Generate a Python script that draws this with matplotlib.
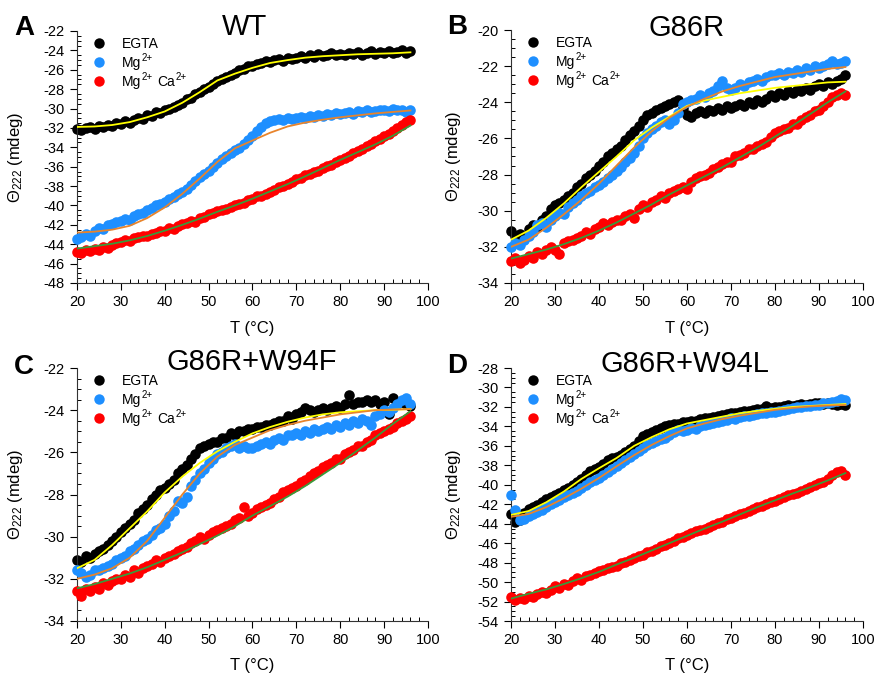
import numpy as np
import matplotlib
matplotlib.use("Agg")
import matplotlib.pyplot as plt
from matplotlib.ticker import MultipleLocator

plt.rcParams['font.family'] = ['Liberation Sans', 'DejaVu Sans']
plt.rcParams['mathtext.fontset'] = 'custom'
plt.rcParams['mathtext.rm'] = 'Liberation Sans'
plt.rcParams['mathtext.it'] = 'Liberation Sans:italic'
plt.rcParams['mathtext.bf'] = 'Liberation Sans:bold'
plt.rcParams['axes.unicode_minus'] = False

# ---------------- data ----------------
temps = np.arange(20, 97)            # measured temperatures (°C)
fit_temps = np.arange(20, 97, 4)     # temperatures of fitted curve samples

panel_letters = ["A", "B", "C", "D"]
panel_titles = ["WT", "G86R", "G86R+W94F", "G86R+W94L"]
# legend labels as (text, is_superscript) pieces
series_labels = [
    [("EGTA", False)],
    [("Mg", False), ("2+", True)],
    [("Mg", False), ("2+", True), ("Ca", False), ("2+", True)],
]
y_limits = [(-48, -22), (-34, -20), (-34, -22), (-54, -28)]

# Panel A (WT)
wt_egta = [-32.1, -32.2, -32.0, -31.9, -32.1, -31.8, -31.9, -31.7, -31.8, -31.5,
           -31.6, -31.3, -31.5, -31.2, -31.0, -31.1, -30.7, -30.8, -30.4, -30.5,
           -30.2, -30.0, -29.8, -29.6, -29.4, -29.0, -28.9, -28.5, -28.3, -28.0,
           -27.8, -27.5, -27.2, -27.0, -26.7, -26.5, -26.3, -26.0, -25.9, -25.6,
           -25.6, -25.4, -25.3, -25.1, -25.2, -25.0, -24.9, -25.1, -24.8, -24.9,
           -24.8, -24.6, -24.8, -24.5, -24.7, -24.4, -24.6, -24.5, -24.3, -24.5,
           -24.4, -24.5, -24.3, -24.4, -24.2, -24.5, -24.3, -24.1, -24.4, -24.2,
           -24.3, -24.1, -24.3, -24.2, -24.0, -24.3, -24.1]
wt_mg = [-43.5, -43.3, -42.9, -43.2, -42.6, -42.3, -42.4, -42.0, -41.9, -41.7,
         -41.6, -41.4, -41.5, -41.1, -40.9, -40.8, -40.5, -40.3, -40.0, -39.8,
         -39.6, -39.3, -39.1, -38.8, -38.6, -38.3, -37.9, -37.5, -37.1, -36.8,
         -36.4, -36.0, -35.6, -35.2, -34.9, -34.6, -34.3, -34.1, -33.7, -33.2,
         -32.8, -32.3, -31.9, -31.5, -31.3, -31.2, -31.1, -31.2, -31.0, -31.1,
         -31.0, -30.9, -31.0, -30.8, -30.9, -30.7, -30.8, -30.6, -30.7, -30.5,
         -30.6, -30.5, -30.4, -30.6, -30.3, -30.4, -30.2, -30.4, -30.3, -30.1,
         -30.2, -30.3, -30.0, -30.2, -30.1, -30.4, -30.2]
wt_mgca = [-44.8, -44.9, -44.6, -44.7, -44.5, -44.6, -44.3, -44.4, -44.1, -43.9,
           -43.8, -43.6, -43.7, -43.4, -43.3, -43.1, -43.2, -42.9, -42.8, -42.6,
           -42.6, -42.3, -42.4, -42.1, -41.9, -41.8, -41.6, -41.7, -41.3, -41.2,
           -40.9, -40.8, -40.6, -40.5, -40.4, -40.2, -40.0, -39.8, -39.7, -39.4,
           -39.3, -39.0, -39.0, -38.8, -38.6, -38.4, -38.1, -38.0, -37.8, -37.6,
           -37.3, -37.2, -36.9, -36.8, -36.5, -36.4, -36.1, -35.9, -35.8, -35.5,
           -35.3, -35.1, -34.9, -34.6, -34.4, -34.2, -33.9, -33.7, -33.4, -33.1,
           -32.8, -32.6, -32.3, -32.0, -31.7, -31.4, -31.2]
wt_egta_fit = [-31.9, -31.85, -31.7, -31.4, -30.9, -30.3, -29.4, -28.3, -27.1, -26.4,
               -25.8, -25.3, -25.0, -24.75, -24.6, -24.5, -24.4, -24.35, -24.3, -24.2]
wt_mg_fit = [-42.8, -42.7, -42.5, -42.1, -41.3, -40.2, -38.8, -37.2, -35.5, -34.1,
             -33.3, -32.5, -31.85, -31.45, -31.15, -30.9, -30.7, -30.5, -30.35, -30.2]
wt_mgca_fit = [-44.45, -44.2, -43.95, -43.6, -43.15, -42.6, -42.0, -41.35, -40.65, -40.0,
               -39.3, -38.55, -37.8, -37.0, -36.15, -35.3, -34.5, -33.7, -32.8, -31.75]

# Panel B (G86R)
g86r_egta = [-31.1, -31.4, -31.3, -31.5, -31.0, -30.8, -30.9, -30.5, -30.3, -29.9,
             -29.7, -29.6, -29.4, -29.2, -29.0, -28.7, -28.5, -28.2, -28.0, -27.8,
             -27.5, -27.3, -27.0, -26.8, -26.6, -26.4, -26.1, -25.8, -25.6, -25.3,
             -25.0, -24.7, -24.6, -24.4, -24.3, -24.2, -24.1, -24.0, -23.9, -24.3,
             -24.7, -24.8, -24.6, -24.5, -24.6, -24.4, -24.5, -24.3, -24.4, -24.2,
             -24.3, -24.2, -24.1, -24.2, -24.0, -24.1, -23.9, -24.0, -23.8, -23.6,
             -23.7, -23.5, -23.6, -23.4, -23.5, -23.3, -23.4, -23.2, -23.3, -23.1,
             -23.0, -23.1, -22.9, -23.0, -22.8, -22.7, -22.5]
g86r_mg = [-32.0, -31.8, -31.9, -31.6, -31.4, -31.2, -30.8, -30.7, -30.9, -30.5,
           -30.3, -30.1, -30.2, -29.8, -29.6, -29.4, -29.2, -29.0, -28.9, -28.7,
           -28.6, -28.4, -28.2, -28.0, -27.8, -27.6, -27.3, -27.1, -26.8, -26.4,
           -26.0, -25.7, -25.5, -25.3, -25.1, -25.0, -25.2, -25.0, -24.6, -24.1,
           -24.0, -23.9, -23.8, -23.6, -23.7, -23.5, -23.4, -23.1, -22.8, -23.2,
           -23.3, -23.2, -23.0, -23.1, -22.9, -22.8, -22.7, -22.8, -22.6, -22.5,
           -22.5, -22.4, -22.5, -22.3, -22.4, -22.2, -22.3, -22.1, -22.2, -22.0,
           -22.1, -22.0, -21.9, -21.7, -21.9, -21.8, -21.7]
g86r_mgca = [-32.8, -32.6, -32.9, -32.7, -32.5, -32.6, -32.3, -32.4, -32.2, -32.0,
             -32.2, -32.4, -31.8, -31.7, -31.6, -31.5, -31.4, -31.2, -31.3, -31.0,
             -30.9, -30.7, -30.8, -30.6, -30.5, -30.5, -30.3, -30.2, -30.4, -29.9,
             -29.7, -29.8, -29.5, -29.4, -29.2, -29.3, -29.0, -28.9, -28.8, -28.7,
             -28.8, -28.4, -28.2, -28.1, -28.0, -27.9, -27.7, -27.6, -27.4, -27.3,
             -27.3, -27.0, -26.9, -26.8, -26.6, -26.6, -26.4, -26.3, -26.2, -25.9,
             -25.7, -25.6, -25.5, -25.4, -25.2, -25.2, -25.0, -24.8, -24.7, -24.5,
             -24.4, -24.2, -24.0, -23.7, -23.6, -23.5, -23.6]
g86r_egta_fit = [-31.6, -31.1, -30.4, -29.6, -28.7, -27.85, -27.0, -26.1, -25.4, -24.8,
                 -24.2, -23.9, -23.7, -23.5, -23.35, -23.2, -23.1, -23.0, -22.9, -22.86]
g86r_mg_fit = [-32.0, -31.6, -30.95, -30.2, -29.4, -28.5, -27.5, -26.5, -25.6, -24.85,
               -24.25, -23.8, -23.4, -23.1, -22.85, -22.6, -22.45, -22.3, -22.15, -22.05]
g86r_mgca_fit = [-32.65, -32.4, -32.15, -31.85, -31.5, -31.1, -30.65, -30.15, -29.65, -29.1,
                 -28.6, -28.1, -27.6, -27.05, -26.5, -25.9, -25.3, -24.65, -24.0, -23.4]

# Panel C (G86R+W94F)
w94f_egta = [-31.1, -31.2, -30.9, -31.0, -30.8, -30.7, -30.6, -30.4, -30.2, -30.0,
             -29.8, -29.6, -29.4, -29.2, -28.9, -28.7, -28.5, -28.2, -28.0, -27.8,
             -27.7, -27.5, -27.3, -27.0, -26.8, -26.6, -26.3, -26.1, -25.8, -25.7,
             -25.6, -25.5, -25.5, -25.3, -25.3, -25.1, -25.2, -25.0, -25.0, -24.9,
             -24.9, -24.8, -24.8, -24.7, -24.7, -24.6, -24.5, -24.5, -24.3, -24.4,
             -24.2, -24.1, -23.9, -24.0, -24.1, -24.0, -23.9, -24.0, -23.9, -23.8,
             -23.9, -23.7, -23.3, -23.7, -23.6, -23.6, -23.5, -23.6, -23.5, -23.7,
             -23.6, -24.2, -23.4, -23.7, -23.6, -23.7, -23.8]
w94f_mg = [-31.6, -31.7, -31.9, -31.8, -31.6, -31.6, -31.5, -31.4, -31.3, -31.1,
           -31.0, -30.9, -30.7, -30.6, -30.4, -30.2, -30.1, -29.9, -29.7, -29.6,
           -29.4, -29.0, -28.8, -28.3, -28.4, -28.1, -27.6, -27.3, -27.0, -26.8,
           -26.5, -26.3, -26.1, -26.0, -25.8, -25.7, -25.6, -25.8, -25.7, -25.8,
           -25.8, -25.7, -25.6, -25.5, -25.6, -25.4, -25.3, -25.4, -25.2, -25.2,
           -25.1, -25.2, -25.0, -25.1, -24.9, -25.0, -24.9, -24.8, -24.9, -24.7,
           -24.8, -24.6, -24.7, -24.5, -24.6, -24.4, -24.5, -24.7, -24.3, -24.2,
           -24.0, -24.1, -23.9, -23.7, -23.5, -23.4, -23.7]
w94f_mgca = [-32.6, -32.8, -32.5, -32.6, -32.4, -32.5, -32.2, -32.3, -32.1, -32.0,
             -32.0, -31.8, -31.9, -31.6, -31.7, -31.5, -31.4, -31.3, -31.1, -31.2,
             -31.0, -30.9, -30.8, -30.7, -30.6, -30.5, -30.3, -30.2, -30.0, -30.1,
             -29.9, -29.8, -29.7, -29.6, -29.5, -29.4, -29.2, -29.1, -28.6, -29.0,
             -28.9, -28.7, -28.6, -28.5, -28.4, -28.2, -28.1, -27.9, -27.8, -27.7,
             -27.6, -27.4, -27.3, -27.1, -27.0, -26.9, -26.7, -26.6, -26.5, -26.3,
             -26.3, -26.1, -26.0, -25.9, -25.7, -25.7, -25.5, -25.4, -25.2, -25.1,
             -25.0, -24.9, -24.8, -24.6, -24.5, -24.4, -24.3]
w94f_egta_fit = [-31.5, -31.1, -30.4, -29.6, -28.8, -27.9, -27.15, -26.5, -25.95, -25.5,
                 -25.1, -24.8, -24.55, -24.35, -24.2, -24.1, -24.05, -24.0, -23.98, -23.95]
w94f_mg_fit = [-32.0, -31.8, -31.5, -31.0, -30.2, -29.1, -28.0, -27.0, -26.2, -25.65,
               -25.3, -24.95, -24.7, -24.5, -24.35, -24.2, -24.1, -24.0, -23.97, -23.95]
w94f_mgca_fit = [-32.45, -32.25, -32.0, -31.75, -31.45, -31.1, -30.75, -30.35, -29.95, -29.5,
                 -29.0, -28.55, -28.1, -27.6, -27.05, -26.5, -25.9, -25.3, -24.65, -24.05]

# Panel D (G86R+W94L)
w94l_egta = [-43.0, -43.8, -43.6, -42.9, -42.5, -42.3, -42.1, -41.8, -41.5, -41.3,
             -41.0, -40.8, -40.5, -40.3, -40.0, -39.7, -39.4, -39.0, -38.6, -38.4,
             -38.2, -37.9, -37.5, -37.2, -37.1, -36.9, -36.6, -36.3, -36.0, -35.5,
             -35.0, -34.8, -34.6, -34.4, -34.2, -34.0, -33.9, -33.8, -33.8, -33.6,
             -33.5, -33.4, -33.4, -33.2, -33.1, -33.1, -33.0, -32.9, -32.8, -32.7,
             -32.6, -32.6, -32.5, -32.4, -32.4, -32.3, -32.2, -32.2, -31.9, -32.1,
             -32.0, -32.0, -31.9, -31.8, -31.9, -31.8, -31.7, -31.8, -31.7, -31.6,
             -31.6, -31.7, -31.6, -31.7, -31.8, -31.7, -31.8]
w94l_mg = [-41.0, -42.6, -43.6, -43.5, -43.2, -43.0, -42.8, -42.6, -42.3, -42.0,
           -41.8, -41.6, -41.3, -41.1, -40.8, -40.6, -40.3, -40.0, -39.7, -39.5,
           -39.3, -39.0, -38.7, -38.4, -38.1, -37.8, -37.5, -37.1, -36.8, -36.5,
           -36.2, -35.9, -35.7, -35.5, -35.3, -35.2, -34.9, -34.6, -34.4, -34.5,
           -34.4, -34.2, -34.3, -34.0, -33.9, -33.8, -33.7, -33.5, -33.4, -33.3,
           -33.1, -33.2, -33.0, -32.9, -32.9, -32.8, -32.7, -32.6, -32.6, -32.5,
           -32.5, -32.4, -32.3, -32.2, -32.1, -32.0, -32.0, -31.9, -31.9, -31.8,
           -31.8, -31.6, -31.6, -31.5, -31.4, -31.2, -31.3]
w94l_mgca = [-51.5, -51.8, -51.6, -51.7, -51.4, -51.5, -51.2, -51.0, -51.1, -50.8,
             -50.4, -50.6, -50.2, -50.3, -49.9, -49.6, -49.8, -49.4, -49.3, -49.1,
             -48.9, -48.8, -48.6, -48.5, -48.3, -48.0, -47.9, -47.7, -47.5, -47.3,
             -47.2, -46.9, -46.8, -46.6, -46.3, -46.2, -46.0, -45.8, -45.5, -45.4,
             -45.2, -45.0, -44.8, -44.6, -44.5, -44.3, -44.1, -43.9, -43.8, -43.5,
             -43.4, -43.2, -43.0, -42.9, -42.7, -42.5, -42.3, -42.2, -42.0, -41.8,
             -41.7, -41.5, -41.3, -41.1, -40.9, -40.8, -40.6, -40.4, -40.2, -40.0,
             -39.8, -39.7, -39.4, -39.0, -38.7, -38.6, -39.0]
w94l_egta_fit = [-43.1, -42.7, -41.8, -40.7, -39.4, -38.3, -37.25, -36.0, -35.1, -34.3,
                 -33.7, -33.35, -33.0, -32.65, -32.4, -32.2, -32.0, -31.9, -31.8, -31.7]
w94l_mg_fit = [-43.3, -43.0, -42.3, -41.4, -40.4, -39.3, -38.1, -36.95, -35.9, -35.0,
               -34.2, -33.7, -33.25, -32.9, -32.6, -32.3, -32.1, -31.95, -31.85, -31.8]
w94l_mgca_fit = [-51.7, -51.2, -50.75, -50.2, -49.6, -48.95, -48.2, -47.5, -46.75, -46.0,
                 -45.25, -44.5, -43.8, -43.05, -42.3, -41.6, -40.9, -40.25, -39.55, -38.8]

panel_data = [
    (wt_egta, wt_mg, wt_mgca),
    (g86r_egta, g86r_mg, g86r_mgca),
    (w94f_egta, w94f_mg, w94f_mgca),
    (w94l_egta, w94l_mg, w94l_mgca),
]
panel_fits = [
    (wt_egta_fit, wt_mg_fit, wt_mgca_fit),
    (g86r_egta_fit, g86r_mg_fit, g86r_mgca_fit),
    (w94f_egta_fit, w94f_mg_fit, w94f_mgca_fit),
    (w94l_egta_fit, w94l_mg_fit, w94l_mgca_fit),
]

# ---------------- styling ----------------
W, H = 878, 678
dot_colors = ["#000000", "#1E8FFF", "#FF0000"]
fit_colors = ["#FFFF00", "#E8842C", "#3A9A3A"]

# axes boxes in pixel coords: (left, top, right, bottom)
boxes = [(77, 31, 428, 283), (511, 30, 863, 283), (77, 368, 428, 621), (511, 368, 863, 621)]
letter_pos = [(24, 28), (457, 27), (24, 367), (457, 366)]
title_pos = [(245, 27), (687, 28), (252, 362), (685, 364)]
ylabel_right = [25, 463, 25, 463]       # right edge of rotated y label (px)
xlabel_top = [321, 321, 658, 658]        # top edge of x label (px)
legend_rows = [12, 31, 50]               # legend row offsets below axes top (px)


def legend_label(ax, x, y_base, pieces):
    """Write a label made of normal and superscript pieces on one baseline."""
    prev = None
    for txt, sup in pieces:
        fs = 7 if sup else 10
        dy = 4.5 if sup else 0.0
        if prev is None:
            prev = ax.text(x, y_base, txt, transform=ax.transAxes, fontsize=fs,
                           ha='left', va='baseline')
        else:
            dx = 0.4 if sup else 3.0
            prev = ax.annotate(txt, xy=(1, y_base), xycoords=(prev, 'axes fraction'),
                               xytext=(dx, dy), textcoords='offset points',
                               fontsize=fs, ha='left', va='baseline',
                               annotation_clip=False)


fig = plt.figure(figsize=(W / 100, H / 100), dpi=100)

for i in range(4):
    l, t, r, b = boxes[i]
    wid, hgt = (r - l), (b - t)
    ax = fig.add_axes([l / W, 1 - b / H, wid / W, hgt / H])
    for k in range(3):
        ax.scatter(temps, panel_data[i][k], s=58, c=dot_colors[k], linewidths=0,
                   zorder=2 + k, clip_on=False)
    for k in range(3):
        ax.plot(fit_temps, panel_fits[i][k], color=fit_colors[k], lw=1.3, zorder=6)

    ax.set_xlim(20, 100)
    ax.set_ylim(*y_limits[i])
    ax.xaxis.set_major_locator(MultipleLocator(10))
    ax.xaxis.set_minor_locator(MultipleLocator(2))
    ax.yaxis.set_major_locator(MultipleLocator(2))
    ax.yaxis.set_minor_locator(MultipleLocator(0.5))
    ax.tick_params(which='major', direction='out', length=5, width=0.8,
                   labelsize=10.5, colors='#000000', pad=4)
    ax.tick_params(which='minor', direction='in', length=3, width=0.7)
    for side in ['top', 'right']:
        ax.spines[side].set_visible(False)
    for side in ['left', 'bottom']:
        ax.spines[side].set_linewidth(0.8)
        ax.spines[side].set_color('#333333')

    ax.set_xlabel("T (°C)", fontsize=12)
    ax.set_ylabel("Θ$_{222}$ (mdeg)", fontsize=12)
    ax.xaxis.set_label_coords(0.5, -(xlabel_top[i] - b) / hgt)
    ax.yaxis.set_label_coords(-(l - ylabel_right[i]) / wid, 0.5)

    # legend
    for k in range(3):
        yy = 1 - legend_rows[k] / hgt
        ax.plot([22 / wid], [yy], ls='none', marker='o', ms=7.5,
                mfc=dot_colors[k], mec='none', transform=ax.transAxes, clip_on=False)
        legend_label(ax, 45 / wid, 1 - (legend_rows[k] + 5) / hgt, series_labels[k])

    fig.text(letter_pos[i][0] / W, 1 - letter_pos[i][1] / H, panel_letters[i],
             fontsize=20, fontweight='bold', ha='center', va='center')
    fig.text(title_pos[i][0] / W, 1 - title_pos[i][1] / H, panel_titles[i],
             fontsize=21, ha='center', va='center')

fig.savefig("out.png", dpi=100)
